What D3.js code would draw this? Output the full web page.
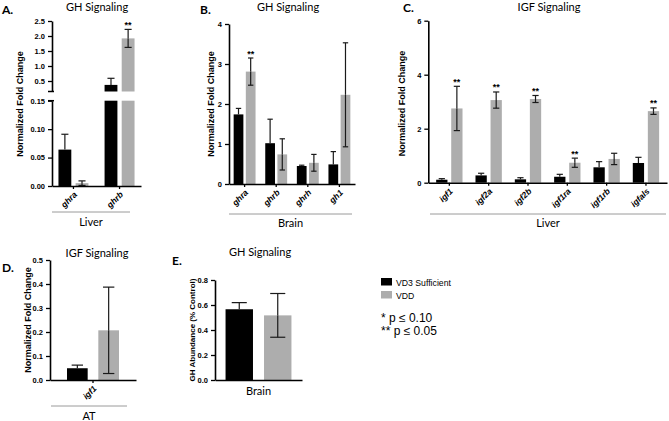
<!DOCTYPE html>
<html>
<head>
<meta charset="utf-8">
<script src="https://cdn.jsdelivr.net/npm/d3@7"></script>
<style>
  body { margin: 0; background: #fff; }
  svg { display: block; }
</style>
</head>
<body>
<svg id="fig" width="669" height="421"></svg>
<script>
// A. GH signaling, liver
const liverGhGenes = ["ghra", "ghrb"];
const liverGhVd3 = [0.064, 0.37];
const liverGhVd3Err = [0.027, 0.22];
const liverGhVdd = [0.005, 1.92];
const liverGhVddErr = [0.004, 0.30];
const liverGhSig = ["", "**"];

// B. GH signaling, brain
const brainGhGenes = ["ghra", "ghrb", "ghrh", "gh1"];
const brainGhVd3 = [1.74, 1.02, 0.45, 0.49];
const brainGhVd3Err = [0.15, 0.60, 0.02, 0.32];
const brainGhVdd = [2.81, 0.74, 0.53, 2.23];
const brainGhVddErr = [0.34, 0.39, 0.21, 1.30];
const brainGhSig = ["**", "", "", ""];

// C. IGF signaling, liver
const liverIgfGenes = ["igf1", "igf2a", "igf2b", "igf1ra", "igf1rb", "igfals"];
const liverIgfVd3 = [0.11, 0.27, 0.125, 0.22, 0.57, 0.73];
const liverIgfVd3Err = [0.04, 0.08, 0.06, 0.09, 0.21, 0.21];
const liverIgfVdd = [2.75, 3.06, 3.10, 0.74, 0.88, 2.65];
const liverIgfVddErr = [0.82, 0.30, 0.13, 0.17, 0.21, 0.12];
const liverIgfSig = ["**", "**", "**", "**", "", "**"];

// D. IGF signaling, adipose tissue
const atIgfGenes = ["igf1"];
const atIgfVd3 = [0.049];
const atIgfVd3Err = [0.013];
const atIgfVdd = [0.207];
const atIgfVddErr = [0.18];

// E. GH abundance, brain
const brainAbCats = ["Brain"];
const brainAbVd3 = [0.566];
const brainAbVd3Err = [0.053];
const brainAbVdd = [0.517];
const brainAbVddErr = [0.175];

const legendLabels = ["VD3 Sufficient", "VDD"];
const sigNotes = ["* p \u2264 0.10", "** p \u2264 0.05"];

const BLACK = "#000";
const GREY = "#adadad";
const titleFont = "Lato, 'Open Sans', sans-serif";
const axisFont = "'Liberation Sans', Arial, sans-serif";

const svg = d3.select("#fig");

function drawPanel(p) {
  const g = svg.append("g");
  const x = d3.scaleBand().domain(p.cats).range([p.ax, p.axEnd])
    .paddingInner(p.padIn).paddingOuter(p.padOut);
  const sub = d3.scaleBand().domain(["vd3", "vdd"]).range([0, x.bandwidth()])
    .paddingInner(p.subPad);
  const segs = p.segs;
  const yOf = v => {
    for (const s of segs) {
      if (v <= s.domain()[1]) return s(v);
    }
    return segs[segs.length - 1](v);
  };
  const baseY = segs[0](0);

  const series = [
    { key: "vd3", vals: p.vd3, errs: p.vd3Err, color: BLACK, down: false },
    { key: "vdd", vals: p.vdd, errs: p.vddErr, color: GREY, down: true }
  ];

  series.forEach(s => {
    p.cats.forEach((c, i) => {
      const v = s.vals[i];
      const bx = x(c) + sub(s.key);
      const bw = sub.bandwidth();
      segs.forEach(seg => {
        const d0 = seg.domain()[0], d1 = seg.domain()[1];
        if (v > d0) {
          const top = seg(Math.min(v, d1));
          g.append("rect")
            .attr("x", bx).attr("width", bw)
            .attr("y", top).attr("height", seg(d0) - top)
            .attr("fill", s.color);
        }
      });
      // error bars
      const cx = bx + bw / 2;
      const cap = bw * 0.55;
      const e = s.errs[i];
      const ends = s.down ? [v + e, Math.max(0, v - e)] : [v + e];
      ends.forEach(end => {
        g.append("line")
          .attr("x1", cx).attr("x2", cx)
          .attr("y1", yOf(v)).attr("y2", yOf(end))
          .attr("stroke", "#1a1a1a").attr("stroke-width", 1.2);
        g.append("line")
          .attr("x1", cx - cap / 2).attr("x2", cx + cap / 2)
          .attr("y1", yOf(end)).attr("y2", yOf(end))
          .attr("stroke", "#1a1a1a").attr("stroke-width", 1.2);
      });
      if (s.key === "vdd" && p.sig && p.sig[i]) {
        g.append("text")
          .attr("x", cx).attr("y", yOf(v + e) - 1.5)
          .attr("text-anchor", "middle")
          .attr("font-family", axisFont).attr("font-weight", "bold")
          .attr("font-size", 9)
          .text(p.sig[i]);
      }
    });
  });

  // y axes, one per segment
  segs.forEach((seg, i) => {
    const ax = g.append("g")
      .attr("transform", `translate(${p.ax},0)`)
      .call(d3.axisLeft(seg).tickValues(p.ticks[i])
        .tickFormat(d3.format(p.fmt[i])).tickSize(4).tickSizeOuter(0));
    styleAxis(ax);
  });
  if (segs.length > 1) {
    [segs[0].range()[1], segs[1].range()[0]].forEach(yy => {
      g.append("line")
        .attr("x1", p.ax - 4).attr("x2", p.ax + 2)
        .attr("y1", yy).attr("y2", yy)
        .attr("stroke", BLACK).attr("stroke-width", 1.5);
    });
  }

  // x axis
  const xa = g.append("g")
    .attr("transform", `translate(0,${baseY})`)
    .call(d3.axisBottom(x).tickSize(p.rotate ? 3 : 0).tickSizeOuter(0));
  styleAxis(xa);
  if (p.rotate) {
    xa.selectAll(".tick text")
      .attr("x", 0).attr("y", 0).attr("dy", "0.35em")
      .attr("transform", "translate(2,7) rotate(-45)")
      .style("text-anchor", "end")
      .attr("font-size", 8.5)
      .attr("font-style", "italic");
  } else {
    xa.selectAll(".tick text")
      .attr("y", 7)
      .attr("font-family", titleFont).attr("font-weight", "normal")
      .attr("font-size", 11);
  }

  // group line and label
  if (p.group) {
    g.append("line")
      .attr("x1", p.group.x1).attr("x2", p.group.x2)
      .attr("y1", p.group.y).attr("y2", p.group.y)
      .attr("stroke", "#9a9a9a").attr("stroke-width", 1);
    g.append("text")
      .attr("x", (p.group.x1 + p.group.x2) / 2).attr("y", p.group.labelY)
      .attr("text-anchor", "middle")
      .attr("font-family", titleFont).attr("font-size", 11)
      .text(p.group.label);
  }

  // y title
  g.append("text")
    .attr("transform", `translate(${p.yTitle.x},${p.yTitle.y}) rotate(-90)`)
    .attr("text-anchor", "middle").attr("dominant-baseline", "central")
    .attr("font-family", axisFont).attr("font-weight", "bold")
    .attr("font-size", p.yTitle.size)
    .text(p.yTitle.text);

  // panel title and letter
  g.append("text")
    .attr("x", p.title.x).attr("y", p.title.y)
    .attr("text-anchor", "middle")
    .attr("font-family", titleFont).attr("font-size", 11)
    .text(p.title.text);
  g.append("text")
    .attr("x", p.letter.x).attr("y", p.letter.y)
    .attr("font-family", titleFont).attr("font-weight", "bold").attr("font-size", 12)
    .text(p.letter.text);
}

function styleAxis(a) {
  a.select(".domain").attr("stroke", BLACK).attr("stroke-width", 1.6);
  a.selectAll(".tick line").attr("stroke", BLACK).attr("stroke-width", 1.3);
  a.selectAll(".tick text")
    .attr("fill", BLACK)
    .attr("font-family", axisFont).attr("font-weight", "bold").attr("font-size", 7.5);
}

// A
drawPanel({
  cats: liverGhGenes, vd3: liverGhVd3, vd3Err: liverGhVd3Err,
  vdd: liverGhVdd, vddErr: liverGhVddErr, sig: liverGhSig,
  ax: 52, axEnd: 141, padIn: 0.35, padOut: 0.14, subPad: 0.25,
  segs: [
    d3.scaleLinear().domain([0, 0.15]).range([186, 100.7]),
    d3.scaleLinear().domain([0.15, 2.5]).range([91.5, 21])
  ],
  ticks: [[0, 0.05, 0.10, 0.15], [0.5, 1.0, 1.5, 2.0, 2.5]],
  fmt: [".2f", ".1f"],
  rotate: true,
  group: { x1: 52, x2: 130, y: 212, labelY: 226, label: "Liver" },
  yTitle: { x: 20, y: 104, size: 9, text: "Normalized Fold Change" },
  title: { x: 97, y: 11, text: "GH Signaling" },
  letter: { x: 2, y: 14, text: "A." }
});

// B
drawPanel({
  cats: brainGhGenes, vd3: brainGhVd3, vd3Err: brainGhVd3Err,
  vdd: brainGhVdd, vddErr: brainGhVddErr, sig: brainGhSig,
  ax: 229, axEnd: 355, padIn: 0.307, padOut: 0.147, subPad: 0.2,
  segs: [d3.scaleLinear().domain([0, 4]).range([184, 24])],
  ticks: [[0, 1, 2, 3, 4]],
  fmt: ["d"],
  rotate: true,
  group: { x1: 229, x2: 352, y: 214, labelY: 226.5, label: "Brain" },
  yTitle: { x: 211, y: 104, size: 9, text: "Normalized Fold Change" },
  title: { x: 288, y: 11, text: "GH Signaling" },
  letter: { x: 200, y: 13.5, text: "B." }
});

// C
drawPanel({
  cats: liverIgfGenes, vd3: liverIgfVd3, vd3Err: liverIgfVd3Err,
  vdd: liverIgfVdd, vddErr: liverIgfVddErr, sig: liverIgfSig,
  ax: 428.3, axEnd: 667, padIn: 0.33, padOut: 0.2, subPad: 0.25,
  segs: [d3.scaleLinear().domain([0, 6]).range([182.7, 20.7])],
  ticks: [[0, 2, 4, 6]],
  fmt: ["d"],
  rotate: true,
  group: { x1: 430, x2: 666, y: 214, labelY: 226.5, label: "Liver" },
  yTitle: { x: 401.7, y: 103.5, size: 9, text: "Normalized Fold Change" },
  title: { x: 549, y: 11, text: "IGF Signaling" },
  letter: { x: 403, y: 12, text: "C." }
});

// D
drawPanel({
  cats: atIgfGenes, vd3: atIgfVd3, vd3Err: atIgfVd3Err,
  vdd: atIgfVdd, vddErr: atIgfVddErr, sig: null,
  ax: 50, axEnd: 136, padIn: 0, padOut: 0.327, subPad: 0.34,
  segs: [d3.scaleLinear().domain([0, 0.5]).range([380, 260])],
  ticks: [[0, 0.1, 0.2, 0.3, 0.4, 0.5]],
  fmt: [".1f"],
  rotate: true,
  group: { x1: 51, x2: 127, y: 406, labelY: 420, label: "AT" },
  yTitle: { x: 28.3, y: 320, size: 9, text: "Normalized Fold Change" },
  title: { x: 97, y: 257, text: "IGF Signaling" },
  letter: { x: 2, y: 272, text: "D." }
});

// E
drawPanel({
  cats: brainAbCats, vd3: brainAbVd3, vd3Err: brainAbVd3Err,
  vdd: brainAbVdd, vddErr: brainAbVddErr, sig: null,
  ax: 215, axEnd: 302, padIn: 0, padOut: 0.16, subPad: 0.287,
  segs: [d3.scaleLinear().domain([0, 0.8]).range([380, 280])],
  ticks: [[0, 0.2, 0.4, 0.6, 0.8]],
  fmt: [".1f"],
  rotate: false,
  group: null,
  yTitle: { x: 192.7, y: 330, size: 8, text: "GH Abundance (% Control)" },
  title: { x: 260, y: 256, text: "GH Signaling" },
  letter: { x: 172, y: 265, text: "E." }
});

// legend
const leg = svg.append("g").attr("transform", "translate(381,278)");
legendLabels.forEach((lab, i) => {
  leg.append("rect")
    .attr("x", 0).attr("y", i * 13).attr("width", 11).attr("height", 7.5)
    .attr("fill", i === 0 ? BLACK : GREY);
  leg.append("text")
    .attr("x", 15).attr("y", i * 13 + 7.5)
    .attr("font-family", axisFont).attr("font-size", 8.7)
    .text(lab);
});
sigNotes.forEach((t, i) => {
  svg.append("text")
    .attr("x", 381).attr("y", 321.5 + i * 13.5)
    .attr("font-family", axisFont).attr("font-size", 12)
    .text(t);
});
</script>
</body>
</html>
